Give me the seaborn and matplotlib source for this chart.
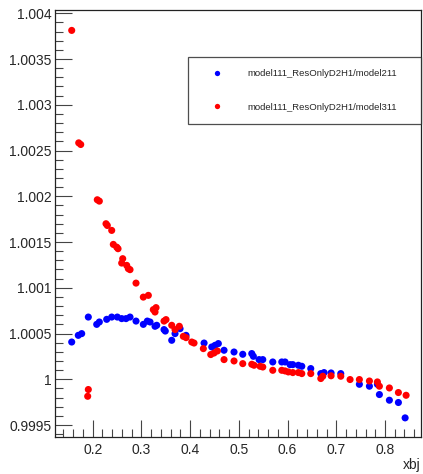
import numpy as np
import pandas as pd
import seaborn as sns
import matplotlib.pyplot as plt
from matplotlib.ticker import MultipleLocator, FuncFormatter

# puntos
xbj_211 = [0.1569, 0.1704, 0.1774, 0.1910, 0.2082, 0.2136, 0.2287, 0.2390, 0.2505, 0.2595,
           0.2684, 0.2766, 0.2889, 0.3039, 0.3121, 0.3177, 0.3279, 0.3314, 0.3464, 0.3490,
           0.3622, 0.3690, 0.3793, 0.3916, 0.4286, 0.4444, 0.4511, 0.4579, 0.4696, 0.4901,
           0.5080, 0.5265, 0.5298, 0.5415, 0.5491, 0.5696, 0.5881, 0.5949, 0.6051, 0.6107,
           0.6222, 0.6292, 0.6476, 0.6682, 0.6749, 0.6893, 0.7092, 0.7474, 0.7680, 0.7844,
           0.7885, 0.8090, 0.8275, 0.8413]
ratio_211 = [1.000407, 1.000480, 1.000499, 1.000680, 1.000600, 1.000626, 1.000655, 1.000680, 1.000680, 1.000663,
             1.000663, 1.000680, 1.000636, 1.000600, 1.000636, 1.000626, 1.000579, 1.000590, 1.000543, 1.000527,
             1.000426, 1.000499, 1.000553, 1.000480, 1.000396, 1.000353, 1.000371, 1.000390, 1.000317, 1.000298,
             1.000273, 1.000281, 1.000251, 1.000215, 1.000215, 1.000189, 1.000189, 1.000189, 1.000160, 1.000160,
             1.000153, 1.000142, 1.000117, 1.000062, 1.000073, 1.000069, 1.000062, 0.999945, 0.999924, 0.999945,
             0.999833, 0.999771, 0.999746, 0.999578]

xbj_311 = [0.1569, 0.1713, 0.1754, 0.1910, 0.1897, 0.2094, 0.2136, 0.2273, 0.2300, 0.2390,
           0.2423, 0.2493, 0.2520, 0.2595, 0.2616, 0.2698, 0.2731, 0.2766, 0.2889, 0.3039,
           0.3142, 0.3244, 0.3300, 0.3279, 0.3464, 0.3505, 0.3622, 0.3690, 0.3778, 0.3860,
           0.3916, 0.4033, 0.4080, 0.4271, 0.4423, 0.4491, 0.4559, 0.4696, 0.4901, 0.5080,
           0.5265, 0.5312, 0.5435, 0.5491, 0.5696, 0.5881, 0.5949, 0.6016, 0.6107, 0.6222,
           0.6292, 0.6476, 0.6682, 0.6723, 0.6893, 0.7092, 0.7283, 0.7474, 0.7680, 0.7844,
           0.7885, 0.8090, 0.8275, 0.8433]
ratio_311 = [1.003813, 1.002584, 1.002566, 0.999888, 0.999814, 1.001962, 1.001947, 1.001700, 1.001681, 1.001627,
             1.001474, 1.001444, 1.001427, 1.001270, 1.001318, 1.001245, 1.001209, 1.001198, 1.001051, 1.000898,
             1.000917, 1.000761, 1.000783, 1.000735, 1.000636, 1.000652, 1.000590, 1.000543, 1.000579, 1.000469,
             1.000455, 1.000407, 1.000396, 1.000335, 1.000270, 1.000287, 1.000309, 1.000215, 1.000200, 1.000171,
             1.000164, 1.000153, 1.000142, 1.000134, 1.000098, 1.000098, 1.000091, 1.000080, 1.000073, 1.000073,
             1.000062, 1.000062, 1.000008, 1.000033, 1.000038, 1.000033, 0.999997, 0.999997, 0.999981, 0.999971,
             0.999924, 0.999905, 0.999855, 0.999825]

label_211 = "model111_ResOnlyD2H1/model211"
label_311 = "model111_ResOnlyD2H1/model311"

df = pd.concat([
    pd.DataFrame({"xbj": xbj_211, "ratio": ratio_211, "serie": label_211}),
    pd.DataFrame({"xbj": xbj_311, "ratio": ratio_311, "serie": label_311}),
], ignore_index=True)

sns.set_theme(style="white")
plt.rcParams['font.family'] = ['Liberation Sans', 'DejaVu Sans']

fig = plt.figure(figsize=(4.23, 4.74), dpi=100)
ax = fig.add_axes([55/423, 1-437/474, 366/423, 427/474])

sns.scatterplot(data=df, x="xbj", y="ratio", hue="serie",
                palette={label_211: "#0000ff", label_311: "#ff0000"},
                s=26, edgecolor="none", linewidth=0, ax=ax)

ax.set_xlim(0.1226, 0.8739)
ax.set_ylim(0.999369, 1.004036)

ax.xaxis.set_major_locator(MultipleLocator(0.1))
ax.xaxis.set_minor_locator(MultipleLocator(0.02))
ax.yaxis.set_major_locator(MultipleLocator(0.0005))
ax.yaxis.set_minor_locator(MultipleLocator(0.0001))
ax.xaxis.set_major_formatter(FuncFormatter(lambda v, p: f"{v:g}"))
ax.yaxis.set_major_formatter(FuncFormatter(lambda v, p: f"{round(v, 6):g}"))

ax.tick_params(which="major", direction="in", length=12, width=0.8, color="#444444",
               labelsize=10, bottom=True, left=True, top=False, right=False)
ax.tick_params(which="minor", direction="in", length=6, width=0.8, color="#444444",
               bottom=True, left=True, top=False, right=False)
ax.tick_params(axis="y", which="major", pad=2.5)
ax.tick_params(axis="x", which="major", pad=4)

for s in ax.spines.values():
    s.set_color("#222222")
    s.set_linewidth(0.9)

ax.set_ylabel("")
ax.set_xlabel("xbj", loc="right", fontsize=10, labelpad=1)

leg = ax.legend(loc="upper left", bbox_to_anchor=(0.363, 0.735, 0.637, 0.155),
                mode="expand", fontsize=6.8, frameon=True, fancybox=False,
                edgecolor="#222222", borderpad=1.3, labelspacing=2.6,
                handlelength=3.6, handletextpad=1.4, markerscale=0.75, borderaxespad=0)
leg.get_frame().set_linewidth(0.9)

fig.savefig("out.png", dpi=100)
